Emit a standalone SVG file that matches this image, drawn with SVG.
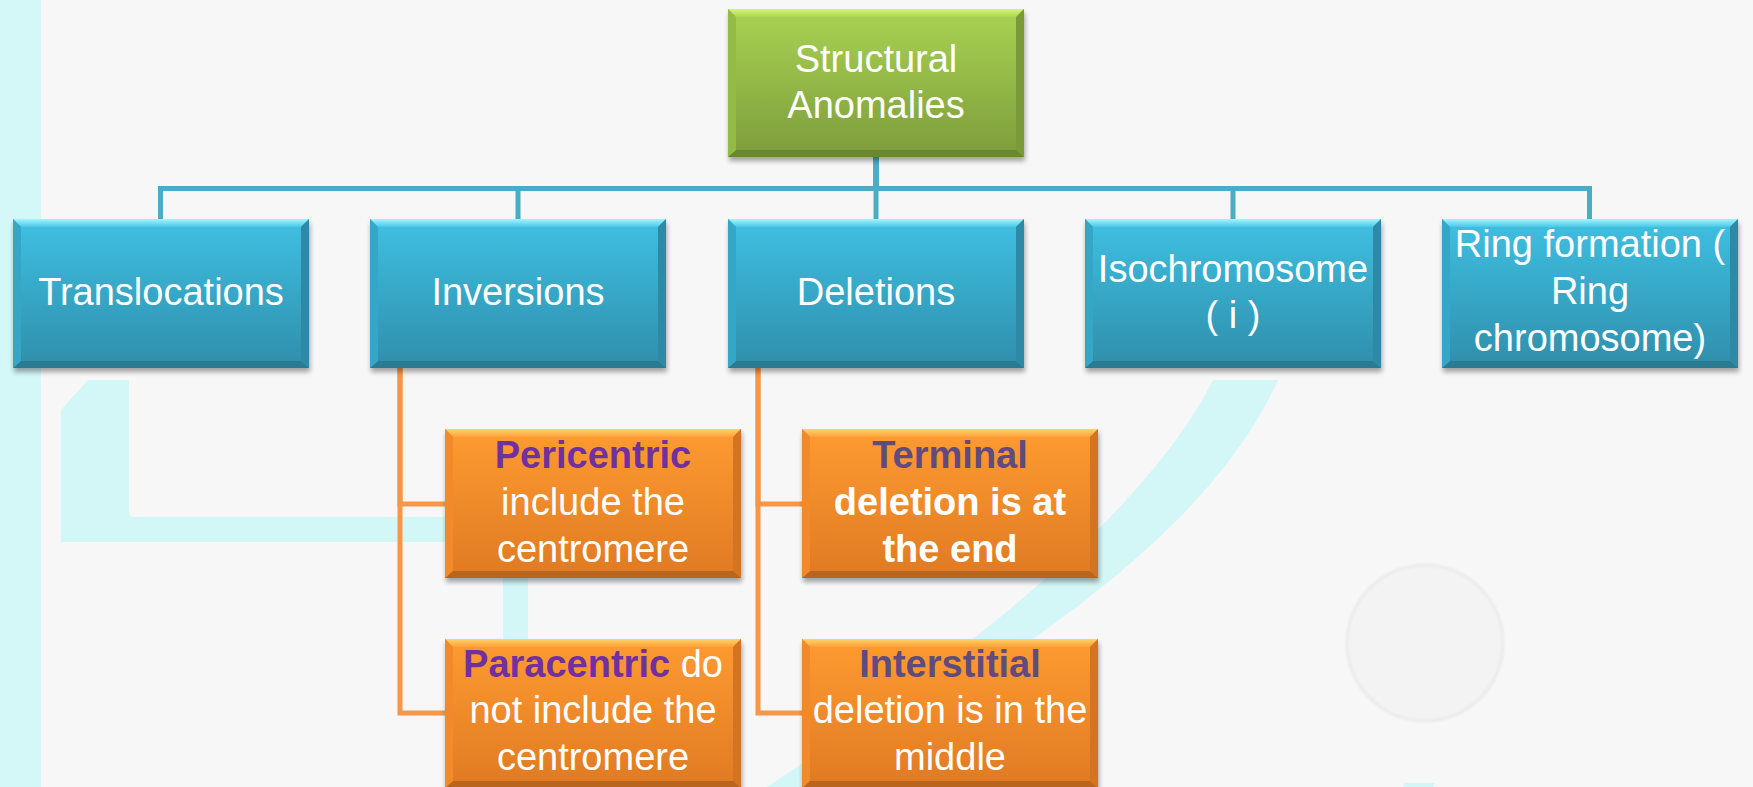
<svg xmlns="http://www.w3.org/2000/svg" xmlns:xlink="http://www.w3.org/1999/xlink" width="1753" height="787" viewBox="0 0 1753 787">
  <style>
    .lbl { font-family: "Liberation Sans", Arial, sans-serif; font-size: 38px; fill: #ffffff; text-anchor: middle; }
    .b { font-weight: bold; }
    .p1 { fill: #7030a0; }
    .p2 { fill: #5f4b7e; }
    .wm { fill: #d3f6f6; }
    .cb { fill: none; stroke: #4bacc6; stroke-width: 5; }
    .co { fill: none; stroke: #f79646; stroke-width: 5; }
    .shd { fill: #000; opacity: 0.35; filter: url(#soft); }
  </style>
  <defs>
    <filter id="soft" x="-10%" y="-10%" width="120%" height="130%">
      <feGaussianBlur stdDeviation="2.5"/>
    </filter>
    <filter id="haze" x="-10%" y="-10%" width="120%" height="120%">
      <feGaussianBlur stdDeviation="1.2"/>
    </filter>
    <linearGradient id="gBlue" x1="0" y1="0" x2="0" y2="1">
      <stop offset="0" stop-color="#3fc0e2"/>
      <stop offset="1" stop-color="#2f8eab"/>
    </linearGradient>
    <linearGradient id="gBlueTop" x1="0" y1="0" x2="0" y2="1">
      <stop offset="0" stop-color="#a4f5ff"/>
      <stop offset="1" stop-color="#48c8e7"/>
    </linearGradient>
    <linearGradient id="gGreen" x1="0" y1="0" x2="0" y2="1">
      <stop offset="0" stop-color="#a9d352"/>
      <stop offset="1" stop-color="#7d9c3c"/>
    </linearGradient>
    <linearGradient id="gGreenTop" x1="0" y1="0" x2="0" y2="1">
      <stop offset="0" stop-color="#d6f27e"/>
      <stop offset="1" stop-color="#acd556"/>
    </linearGradient>
    <linearGradient id="gOrange" x1="0" y1="0" x2="0" y2="1">
      <stop offset="0" stop-color="#ff9b31"/>
      <stop offset="1" stop-color="#df7a23"/>
    </linearGradient>
    <linearGradient id="gOrangeTop" x1="0" y1="0" x2="0" y2="1">
      <stop offset="0" stop-color="#ffd66a"/>
      <stop offset="1" stop-color="#ffa03a"/>
    </linearGradient>

    <!-- bevelled box shapes, 296 x 149 -->
    <g id="tpl-blue">
      <rect class="shd" x="1" y="4" width="296" height="149"/>
      <rect width="296" height="149" fill="url(#gBlue)"/>
      <polygon points="0,0 296,0 288,8 8,8" fill="url(#gBlueTop)"/>
      <polygon points="0,149 296,149 288,142 8,142" fill="#2a7a92"/>
      <polygon points="0,0 8,8 8,142 0,149" fill="#35a6c6"/>
      <polygon points="296,0 288,8 288,142 296,149" fill="#2d89a6"/>
    </g>
    <g id="tpl-green">
      <rect class="shd" x="1" y="4" width="296" height="148"/>
      <rect width="296" height="148" fill="url(#gGreen)"/>
      <polygon points="0,0 296,0 288,8 8,8" fill="url(#gGreenTop)"/>
      <polygon points="0,148 296,148 288,141 8,141" fill="#6a8830"/>
      <polygon points="0,0 8,8 8,141 0,148" fill="#93bb46"/>
      <polygon points="296,0 288,8 288,141 296,148" fill="#7a9a3a"/>
    </g>
    <g id="tpl-orange">
      <rect class="shd" x="1" y="4" width="296" height="149"/>
      <rect width="296" height="149" fill="url(#gOrange)"/>
      <polygon points="0,0 296,0 288,8 8,8" fill="url(#gOrangeTop)"/>
      <polygon points="0,149 296,149 288,142 8,142" fill="#b9651d"/>
      <polygon points="0,0 8,8 8,142 0,149" fill="#f08a2a"/>
      <polygon points="296,0 288,8 288,142 296,149" fill="#d47322"/>
    </g>
  </defs>

  <!-- page background -->
  <rect width="1753" height="787" fill="#f7f7f7"/>
  <rect width="41" height="787" fill="#d4f7f7"/>

  <!-- faint background artwork -->
  <g id="background-art">
    <path class="wm" d="M61,410 L88,380 L129,380 L129,512 Q129,517 134,517 L528,517 L528,542 L61,542 Z"/>
    <rect class="wm" x="503" y="517" width="25" height="270"/>
    <path class="wm" d="M1213,380 L1278,380 C1201,550 990,667 810,787 L767,787 C917,687 1138,530 1213,380 Z"/>
    <polygon class="wm" points="1405,783 1435,783 1433,787 1403,787"/>
    <circle cx="1425" cy="643" r="78" fill="#f3f3f3" stroke="#ebebeb" stroke-width="3" filter="url(#haze)"/>
  </g>

  <!-- connectors -->
  <g id="connectors">
    <path class="cb" d="M876,157 V188.5 H160.5 V219"/>
    <path class="cb" d="M876,157 V188.5 H518 V219"/>
    <path class="cb" d="M876,157 V219"/>
    <path class="cb" d="M876,157 V188.5 H1233 V219"/>
    <path class="cb" d="M876,157 V188.5 H1589.5 V219"/>
    <path class="co" d="M400,368 V504 H445"/>
    <path class="co" d="M400,368 V713 H445"/>
    <path class="co" d="M758,368 V504 H802"/>
    <path class="co" d="M758,368 V713 H802"/>
  </g>

  <g id="node-structural">
    <use xlink:href="#tpl-green" x="728" y="9"/>
    <text class="lbl" x="876" y="72">Structural</text>
    <text class="lbl" x="876" y="118">Anomalies</text>
  </g>

  <g id="node-translocations">
    <use xlink:href="#tpl-blue" x="13" y="219"/>
    <text class="lbl" x="161" y="305">Translocations</text>
  </g>

  <g id="node-inversions">
    <use xlink:href="#tpl-blue" x="370" y="219"/>
    <text class="lbl" x="518" y="305">Inversions</text>
  </g>

  <g id="node-deletions">
    <use xlink:href="#tpl-blue" x="728" y="219"/>
    <text class="lbl" x="876" y="305">Deletions</text>
  </g>

  <g id="node-isochromosome">
    <use xlink:href="#tpl-blue" x="1085" y="219"/>
    <text class="lbl" x="1233" y="282">Isochromosome</text>
    <text class="lbl" x="1233" y="328">( i )</text>
  </g>

  <g id="node-ring">
    <use xlink:href="#tpl-blue" x="1442" y="219"/>
    <text class="lbl" x="1590" y="257">Ring formation (</text>
    <text class="lbl" x="1590" y="304">Ring</text>
    <text class="lbl" x="1590" y="351">chromosome)</text>
  </g>

  <g id="node-pericentric">
    <use xlink:href="#tpl-orange" x="445" y="429"/>
    <text class="lbl b p1" x="593" y="468">Pericentric</text>
    <text class="lbl" x="593" y="515">include the</text>
    <text class="lbl" x="593" y="562">centromere</text>
  </g>

  <g id="node-paracentric">
    <use xlink:href="#tpl-orange" x="445" y="639"/>
    <text class="lbl" x="593" y="677"><tspan class="b p1">Paracentric</tspan> do</text>
    <text class="lbl" x="593" y="723">not include the</text>
    <text class="lbl" x="593" y="770">centromere</text>
  </g>

  <g id="node-terminal">
    <use xlink:href="#tpl-orange" x="802" y="429"/>
    <text class="lbl b p2" x="950" y="468">Terminal</text>
    <text class="lbl b" x="950" y="515">deletion is at</text>
    <text class="lbl b" x="950" y="562">the end</text>
  </g>

  <g id="node-interstitial">
    <use xlink:href="#tpl-orange" x="802" y="639"/>
    <text class="lbl b p2" x="950" y="677">Interstitial</text>
    <text class="lbl" x="950" y="723">deletion is in the</text>
    <text class="lbl" x="950" y="770">middle</text>
  </g>
</svg>
